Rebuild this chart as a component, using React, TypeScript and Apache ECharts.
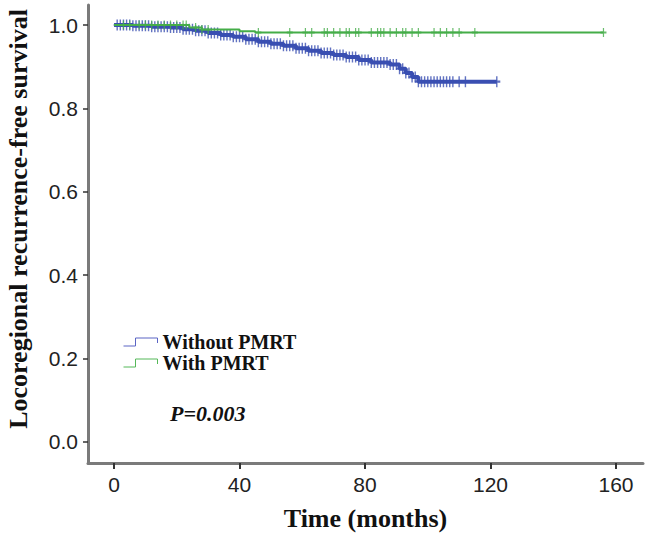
import React, { useEffect, useRef } from "react";
import * as echarts from "echarts";

// Kaplan-Meier step points (time in months, survival)
const withoutTimes = [0, 6, 12, 18, 22, 26, 30, 34, 38, 42, 46, 50, 54, 58, 62, 66, 70, 74, 78, 82, 88, 91, 93, 95, 97, 122];
const withoutSurv = [1.0, 0.998, 0.996, 0.994, 0.99, 0.986, 0.981, 0.976, 0.972, 0.966, 0.96, 0.955, 0.95, 0.944, 0.938, 0.933, 0.928, 0.923, 0.916, 0.91, 0.905, 0.895, 0.885, 0.875, 0.864, 0.864];
const withTimes = [0, 24, 28, 40, 45, 156];
const withSurv = [1.0, 0.994, 0.989, 0.985, 0.982, 0.982];

// censored observations (months)
const withoutCensor = [1, 2, 3, 4, 5, 6, 7, 8, 9, 10, 11, 12, 13, 14, 15, 16, 17, 18, 19, 20, 21, 22, 23, 24, 25, 26, 27, 28, 29, 30, 31, 32, 33, 34, 35, 36, 37, 38, 39, 40, 41, 42, 43, 44, 45, 46, 47, 48, 49, 50, 51, 52, 53, 54, 55, 56, 57, 58, 59, 60, 61, 62, 63, 64, 65, 66, 67, 68, 69, 70, 71, 72, 73, 74, 75, 76, 77, 78, 79, 80, 81, 82, 83, 84, 85, 86, 87, 88, 89, 90, 91, 92, 93, 94, 95, 96, 97, 98, 99, 100, 101, 102, 103, 104, 105, 106, 107, 108, 110, 112, 122];
const withCensor = [3, 5, 8, 10, 12, 14, 16, 18, 20, 22, 23, 26, 28, 30, 46, 56, 61, 63, 67, 68, 70, 72, 74, 75, 77, 78, 82, 84, 85, 86, 88, 90, 92, 93, 95, 97, 102, 104, 106, 108, 110, 115, 156];

const xTicks = [0, 40, 80, 120, 160];
const yTicks = [0, 0.2, 0.4, 0.6, 0.8, 1.0];

const seriesNames = ["Without PMRT", "With PMRT"];
const pValueText = "P=0.003";

const BLUE = "#3a4fb2";
const GREEN = "#45ad48";

function survAt(times: number[], surv: number[], t: number): number {
  let s = surv[0];
  for (let i = 0; i < times.length; i++) {
    if (times[i] <= t) s = surv[i];
  }
  return s;
}

const CROSS = "path://M4,0 H6 V4 H10 V6 H6 V10 H4 V6 H0 V4 H4 Z";
const STEP_ICON = "path://M0,8 L12,8 L12,0 L34,0 L34,5";

export default function App() {
  const ref = useRef<HTMLDivElement>(null);
  useEffect(() => {
    if (!ref.current) return;
    const chart = echarts.init(ref.current, undefined, { renderer: "svg" });
    const withoutLine = withoutTimes.map((t, i) => [t, withoutSurv[i]]);
    const withLine = withTimes.map((t, i) => [t, withSurv[i]]);
    const withoutMarks = withoutCensor.map((t) => [t, survAt(withoutTimes, withoutSurv, t)]);
    const withMarks = withCensor.map((t) => [t, survAt(withTimes, withSurv, t)]);
    const axisLine = { show: true, onZero: false, lineStyle: { color: "#7a7a7a", width: 3 } };
    chart.setOption({
      animation: false,
      backgroundColor: "#ffffff",
      grid: { left: 88, right: 5, top: 5, bottom: 73, containLabel: false },
      xAxis: {
        type: "value",
        min: -8.3,
        max: 168.6,
        axisLine,
        splitLine: { show: false },
        axisTick: { show: true, customValues: xTicks, length: 6, lineStyle: { color: "#333", width: 2 } },
        axisLabel: {
          customValues: xTicks,
          margin: 11,
          fontFamily: "Liberation Sans",
          fontSize: 21,
          color: "#222",
        },
        name: "Time (months)",
        nameLocation: "middle",
        nameGap: 42,
        nameTextStyle: { fontFamily: "Liberation Serif", fontWeight: "bold", fontSize: 26, color: "#111" },
      },
      yAxis: {
        type: "value",
        min: -0.051,
        max: 1.048,
        axisLine,
        splitLine: { show: false },
        axisTick: { show: true, customValues: yTicks, length: 5, lineStyle: { color: "#333", width: 1.5 } },
        axisLabel: {
          customValues: yTicks,
          margin: 10,
          fontFamily: "Liberation Sans",
          fontSize: 21,
          color: "#222",
          formatter: (v: number) => v.toFixed(1),
        },
      },
      legend: {
        orient: "vertical",
        left: 123,
        top: 332,
        padding: 0,
        itemWidth: 34,
        itemHeight: 8,
        itemGap: 1,
        icon: STEP_ICON,
        symbolKeepAspect: false,
        textStyle: { fontFamily: "Liberation Serif", fontWeight: "bold", fontSize: 20, color: "#111", lineHeight: 19 },
        data: [
          { name: seriesNames[0], itemStyle: { color: "transparent", borderColor: "#5a64c4", borderWidth: 1 } },
          { name: seriesNames[1], itemStyle: { color: "transparent", borderColor: "#55b858", borderWidth: 1 } },
        ],
      },
      graphic: [
        {
          type: "text",
          x: 18,
          y: 219,
          rotation: Math.PI / 2,
          style: {
            text: "Locoregional recurrence-free survival",
            fontFamily: "Liberation Serif",
            fontWeight: "bold",
            fontSize: 26,
            fill: "#111",
            align: "center",
            verticalAlign: "middle",
          },
        },
        {
          type: "text",
          x: 170,
          y: 413,
          style: {
            text: pValueText,
            fontFamily: "Liberation Serif",
            fontWeight: "bold",
            fontStyle: "italic",
            fontSize: 22,
            fill: "#111",
            align: "left",
            verticalAlign: "middle",
          },
        },
      ],
      series: [
        {
          name: seriesNames[0],
          type: "line",
          step: "end",
          data: withoutLine,
          showSymbol: false,
          lineStyle: { color: BLUE, width: 4 },
          itemStyle: { color: BLUE },
          z: 3,
        },
        {
          name: seriesNames[0],
          type: "scatter",
          data: withoutMarks,
          symbol: CROSS,
          symbolSize: [7, 11],
          itemStyle: { color: BLUE },
          z: 3,
        },
        {
          name: seriesNames[1],
          type: "line",
          step: "end",
          data: withLine,
          showSymbol: false,
          lineStyle: { color: GREEN, width: 2 },
          itemStyle: { color: GREEN },
          z: 4,
        },
        {
          name: seriesNames[1],
          type: "scatter",
          data: withMarks,
          symbol: CROSS,
          symbolSize: [6, 9],
          itemStyle: { color: GREEN },
          z: 4,
        },
      ],
    });
    return () => chart.dispose();
  }, []);
  return (
    <div
      ref={ref}
      style={{ position: "fixed", left: 0, top: 0, width: 648, height: 536, background: "#fff" }}
    />
  );
}
